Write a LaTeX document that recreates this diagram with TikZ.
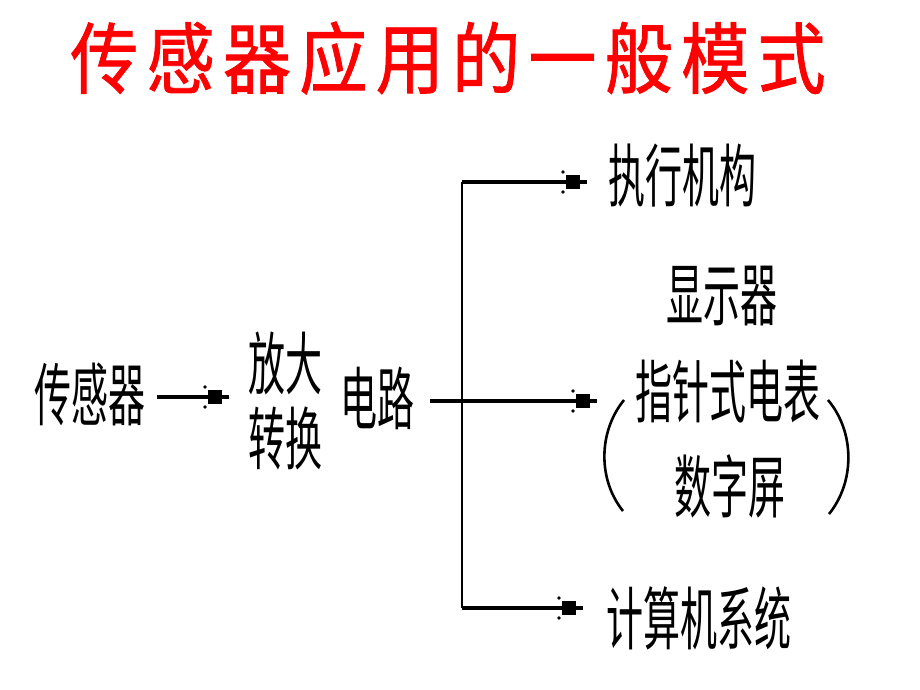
\documentclass[tikz,border=0pt]{standalone}
\usepackage{fontspec}
\usepackage{graphicx}
\usetikzlibrary{decorations.markings}
\newfontfamily\cjk{Noto Sans CJK SC}
\newfontfamily\cjkt{Noto Sans CJK SC}[FakeBold=1.2]
\definecolor{titlered}{RGB}{255,0,0}
\newcommand{\tallt}[1]{\scalebox{1}[1.85]{#1}}
\tikzset{
  lbl/.style={font=\cjk\fontsize{37}{40}\selectfont, inner sep=0pt, anchor=center},
  ttl/.style={font=\cjkt\fontsize{74}{78}\selectfont, text=titlered, inner sep=0pt},
  vwire/.style={line width=2.6pt},
  sqarrow/.style={line width=4.2pt, postaction={decorate},
    decoration={markings, mark=at position -14pt with {
      \fill (-7pt,-7pt) rectangle (7pt,7pt);
      \fill (-10pt,10pt) circle (1.8pt);
      \fill (-10pt,-10pt) circle (1.8pt);}}},
  paren/.style={line width=2.6pt}
}
\begin{document}
\begin{tikzpicture}[x=1pt,y=-1pt]
\useasboundingbox[fill=white] (0,0) rectangle (920,690);
% title
\node[ttl] (title) at (448,58) {\scalebox{0.92}[1.05]{传\hspace{9pt}感\hspace{9pt}器\hspace{9pt}应\hspace{9pt}用\hspace{9pt}的\hspace{9pt}一\hspace{9pt}般\hspace{9pt}模\hspace{9pt}式}};
% nodes
\node[lbl] (sensor) at (90,394) {\tallt{传感器}};
\node[lbl] (amp) at (285,363) {\tallt{放大}};
\node[lbl] (conv) at (285,438) {\tallt{转换}};
\node[lbl] (circ) at (377,398) {\tallt{电路}};
\node[lbl, anchor=west] (exec) at (608,176) {\tallt{执行机构}};
\node[lbl] (disp) at (722,296) {\tallt{显示器}};
\node[lbl] (meter) at (728,392) {\tallt{指针式电表}};
\node[lbl] (screen) at (730,486) {\tallt{数字屏}};
\node[lbl, anchor=west] (comp) at (606,618) {\tallt{计算机系统}};
% connector coordinates
\coordinate (sA) at (157,397);
\coordinate (sB) at (229,397);
\coordinate (mA) at (430,401);
\coordinate (mB) at (597,401);
\coordinate (jT) at (462,182);
\coordinate (jB) at (462,608);
\coordinate (tB) at (587,182);
\coordinate (bB) at (583,608);
% connectors
\draw[sqarrow] (sA) -- (sB);
\draw[sqarrow] (mA) -- (mB);
\draw[vwire] (jT) -- (jB);
\draw[sqarrow] (jT) -- (tB);
\draw[sqarrow] (jB) -- (bB);
% parentheses
\draw[paren] (624,400) .. controls (598,432) and (598,480) .. (623,511);
\draw[paren] (828,400) .. controls (855,432) and (855,482) .. (829,514);
\end{tikzpicture}
\end{document}
